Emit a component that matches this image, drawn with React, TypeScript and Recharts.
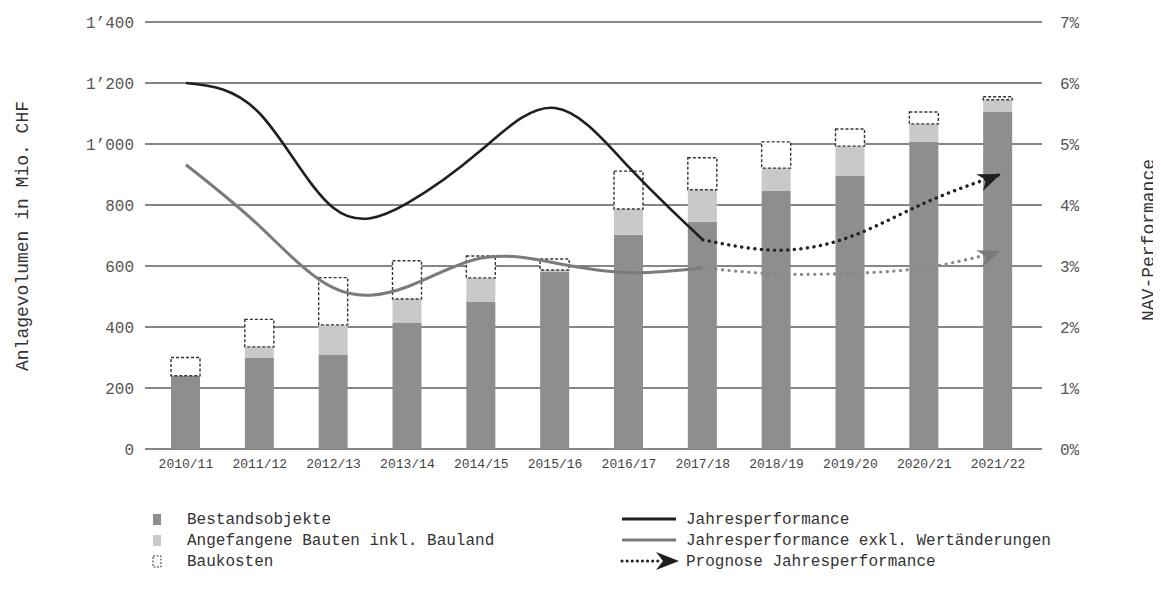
import React from 'react';
import { ComposedChart, Bar, Line, XAxis, YAxis, CartesianGrid } from 'recharts';

const categories = ['2010/11', '2011/12', '2012/13', '2013/14', '2014/15', '2015/16', '2016/17', '2017/18', '2018/19', '2019/20', '2020/21', '2021/22'];
const bestandsobjekte = [240, 300, 310, 415, 482, 580, 702, 745, 846, 895, 1007, 1105];
const angefangeneBauten = [0, 35, 97, 77, 79, 7, 85, 105, 75, 98, 59, 40];
const baukosten = [60, 90, 155, 125, 72, 36, 124, 105, 86, 56, 39, 10];
const jahresperformance = [6.0, 5.5, 3.95, 4.03, 4.9, 5.59, 4.62, 3.43, null, null, null, null];
const prognose = [null, null, null, null, null, null, null, 3.43, 3.26, 3.48, 4.03, 4.49];
const jahresperformanceExkl = [4.66, 3.65, 2.64, 2.66, 3.13, 3.05, 2.89, 2.97, null, null, null, null];
const prognoseExkl = [null, null, null, null, null, null, null, 2.97, 2.87, 2.88, 2.97, 3.23];
const leftTicks = [0, 200, 400, 600, 800, 1000, 1200, 1400];
const rightTicks = [0, 1, 2, 3, 4, 5, 6, 7];
const legendLeft = ['Bestandsobjekte', 'Angefangene Bauten inkl. Bauland', 'Baukosten'];
const legendRight = ['Jahresperformance', 'Jahresperformance exkl. Wertänderungen', 'Prognose Jahresperformance'];

const data = categories.map((c, i) => ({
  name: c,
  bestand: bestandsobjekte[i],
  angef: angefangeneBauten[i],
  bau: baukosten[i],
  jp: jahresperformance[i],
  prog: prognose[i],
  jpx: jahresperformanceExkl[i],
  progx: prognoseExkl[i],
}));

const DARK = '#8e8e91';
const LIGHT = '#c9c9c9';
const mono = '"Liberation Mono", monospace';
const ARROW = '3,0 -20,-9 -13,0 -20,9';

const fmtLeft = (v: number) => (v >= 1000 ? `${Math.floor(v / 1000)}’${String(v % 1000).padStart(3, '0')}` : `${v}`);

// arrowhead drawn on the last point of a forecast line
const arrowDot = (color: string, angle: number) => (props: any) => {
  const { cx, cy, index } = props;
  if (index !== categories.length - 1 || cx == null) return <g key={`a${index}`} />;
  return <polygon key={`a${index}`} points={ARROW} fill={color} transform={`translate(${cx},${cy}) rotate(${angle})`} />;
};

export default function App() {
  return (
    <div style={{ position: 'relative', width: 1153, height: 573 }}>
      <ComposedChart width={1153} height={470} data={data} margin={{ top: 14, right: 0, bottom: 0, left: 0 }}>
        <CartesianGrid vertical={false} yAxisId="left" stroke="#5e5e5e" strokeWidth={1.3} />
        <XAxis
          dataKey="name"
          axisLine={false}
          tickLine={false}
          tickSize={0}
          tickMargin={10}
          height={29}
          padding={{ left: 4, right: 7 }}
          interval={0}
          tick={{ fill: '#444', fontSize: 13, fontFamily: mono }}
        />
        <YAxis
          yAxisId="left"
          domain={[0, 1400]}
          ticks={leftTicks}
          width={137}
          axisLine={false}
          tickLine={false}
          tickSize={0}
          tickMargin={11}
          tickFormatter={fmtLeft}
          tick={{ fill: '#555', fontSize: 16, fontFamily: mono }}
        />
        <YAxis
          yAxisId="right"
          orientation="right"
          domain={[0, 7]}
          ticks={rightTicks}
          width={119}
          axisLine={false}
          tickLine={false}
          tickSize={0}
          tickMargin={18}
          tickFormatter={(v: number) => `${v}%`}
          tick={{ fill: '#555', fontSize: 16, fontFamily: mono, textAnchor: 'start' }}
        />
        <Bar yAxisId="left" dataKey="bestand" stackId="s" fill={DARK} barSize={29} isAnimationActive={false} />
        <Bar yAxisId="left" dataKey="angef" stackId="s" fill={LIGHT} barSize={29} isAnimationActive={false} />
        <Bar
          yAxisId="left"
          dataKey="bau"
          stackId="s"
          fill="#fff"
          stroke="#333"
          strokeWidth={1.4}
          strokeDasharray="3 2"
          barSize={29}
          isAnimationActive={false}
        />
        <Line yAxisId="right" type="natural" dataKey="jpx" stroke="#7b7b7b" strokeWidth={3} dot={false} isAnimationActive={false} />
        <Line yAxisId="right" type="natural" dataKey="jp" stroke="#1f1f1f" strokeWidth={2.6} dot={false} isAnimationActive={false} />
        <Line
          yAxisId="right"
          type="natural"
          dataKey="progx"
          stroke="#888"
          strokeWidth={3.2}
          strokeDasharray="0.1 6.5"
          strokeLinecap="round"
          dot={arrowDot('#7b7b7b', -20)}
          isAnimationActive={false}
        />
        <Line
          yAxisId="right"
          type="natural"
          dataKey="prog"
          stroke="#222"
          strokeWidth={3.4}
          strokeDasharray="0.1 6.5"
          strokeLinecap="round"
          dot={arrowDot('#1f1f1f', -22)}
          isAnimationActive={false}
        />
      </ComposedChart>

      <svg width={1153} height={573} style={{ position: 'absolute', left: 0, top: 0, pointerEvents: 'none' }}>
        <text x={20} y={228} transform="rotate(-90, 20, 228)" textAnchor="middle" fontFamily={mono} fontSize={18} fill="#333">
          Anlagevolumen in Mio. CHF
        </text>
        <text x={1146} y={232} transform="rotate(-90, 1146, 232)" textAnchor="middle" fontFamily={mono} fontSize={18} fill="#333">
          NAV-Performance
        </text>

        {/* legend, left column */}
        <rect x={145} y={506} width={8} height={11} fill={DARK} />
        <rect x={145} y={527} width={8} height={11} fill={LIGHT} />
        <rect x={145} y={548} width={8} height={11} fill="none" stroke="#333" strokeWidth={1} strokeDasharray="2 1.5" />
        {legendLeft.map((t, i) => (
          <text key={t} x={179} y={516 + i * 21} fontFamily={mono} fontSize={16} fill="#333">
            {t}
          </text>
        ))}
        {/* legend, right column */}
        <line x1={614} x2={668} y1={511} y2={511} stroke="#1f1f1f" strokeWidth={3} />
        <line x1={614} x2={668} y1={532} y2={532} stroke="#7b7b7b" strokeWidth={3} />
        <line x1={614} x2={652} y1={553} y2={553} stroke="#222" strokeWidth={3} strokeDasharray="0.1 5" strokeLinecap="round" />
        <polygon points={ARROW} transform="translate(668,553)" fill="#1f1f1f" />
        {legendRight.map((t, i) => (
          <text key={t} x={678} y={516 + i * 21} fontFamily={mono} fontSize={16} fill="#333">
            {t}
          </text>
        ))}
      </svg>
    </div>
  );
}
